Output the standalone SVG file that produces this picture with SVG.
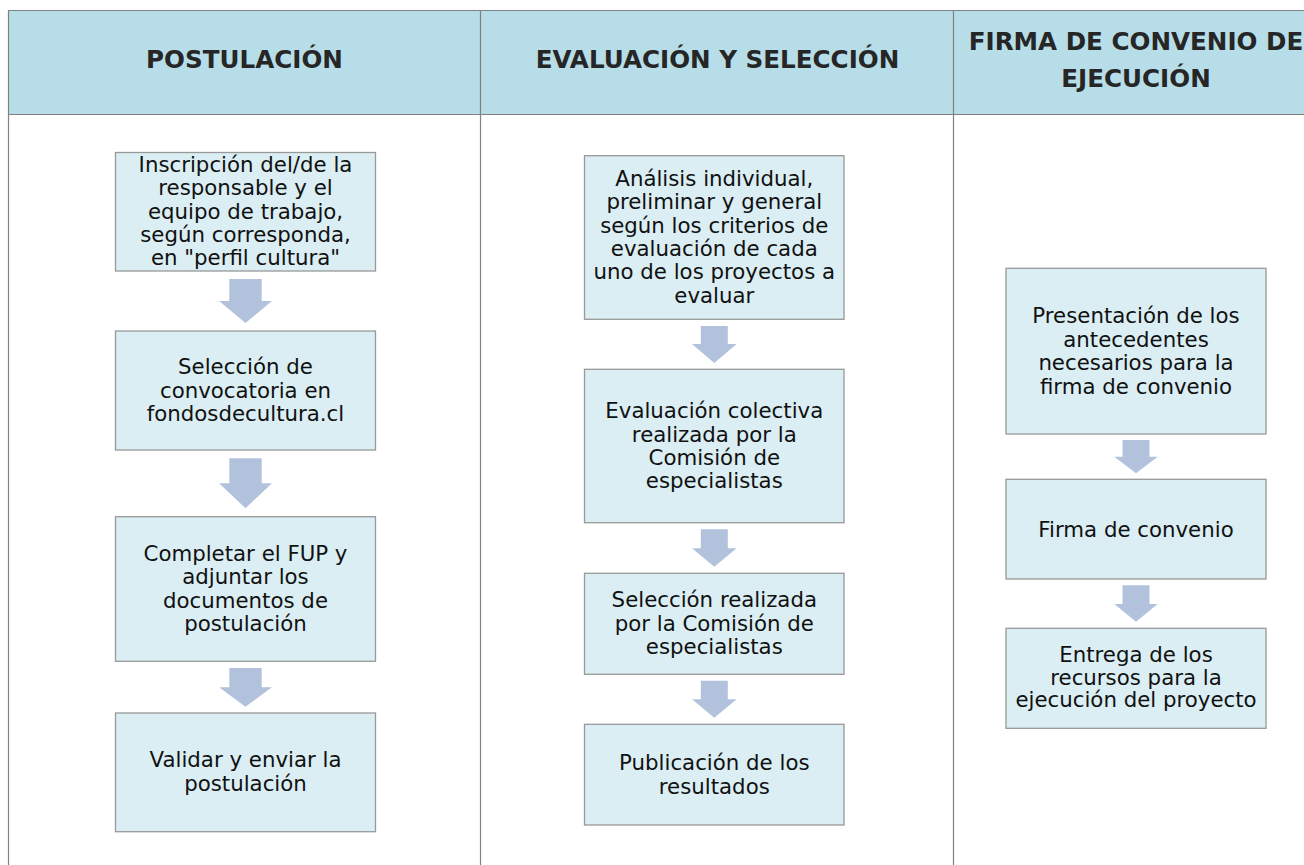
<svg xmlns="http://www.w3.org/2000/svg" width="1304" height="865" viewBox="0 0 1304 865">
<style>
.hdr{fill:#B7DDE8}
.grid{stroke:#808080;stroke-width:1.2;fill:none}
.box{fill:#DAEEF3;stroke:#999999;stroke-width:1.3}
.arr{fill:#B3C2DC}
.h{font-family:"DejaVu Sans",Verdana,sans-serif;font-weight:bold;font-size:24.6px;fill:#262626;text-anchor:middle}
.t{font-family:"DejaVu Sans",Verdana,sans-serif;font-size:21.3px;fill:#111111;text-anchor:middle}
</style>
<rect width="1304" height="865" fill="#ffffff"/>
<g id="table">
<rect class="hdr" x="8" y="10" width="1296" height="104"/>
<path class="grid" d="M8,10.5H1304M8,114.5H1304M8.5,10V865M480.5,10V865M953.5,10V865"/>
<text class="h" x="244.5" y="68">POSTULACIÓN</text>
<text class="h" x="717.5" y="68">EVALUACIÓN Y SELECCIÓN</text>
<text class="h" x="1136" y="50">FIRMA DE CONVENIO DE</text>
<text class="h" x="1136" y="87">EJECUCIÓN</text>
</g>
<g id="connectors">
<path class="arr" d="M229.3,279H261.7V301H271.9L245.5,323L219.1,301H229.3Z"/>
<path class="arr" d="M229.3,458.3H261.7V483.3H271.9L245.5,508.3L219.1,483.3H229.3Z"/>
<path class="arr" d="M229.3,668H261.7V687.3H271.9L245.5,706.7L219.1,687.3H229.3Z"/>
<path class="arr" d="M700.8,326H727.8V344H736.6L714.3,363L692,344H700.8Z"/>
<path class="arr" d="M700.8,529.3H727.8V548.3H736.6L714.3,566.7L692,548.3H700.8Z"/>
<path class="arr" d="M700.8,680.7H727.8V699.3H736.6L714.3,717.7L692,699.3H700.8Z"/>
<path class="arr" d="M1122.5,440H1149.5V456.7H1157.7L1136,473.3L1114.3,456.7H1122.5Z"/>
<path class="arr" d="M1122.5,585.3H1149.5V604H1157.7L1136,621.7L1114.3,604H1122.5Z"/>
</g>
<g id="n1">
<rect class="box" x="115.5" y="152.5" width="260" height="118.5"/>
<text class="t" x="245.5" y="172">Inscripción del/de la</text>
<text class="t" x="245.5" y="195.3">responsable y el</text>
<text class="t" x="245.5" y="218.6">equipo de trabajo,</text>
<text class="t" x="245.5" y="241.9">según corresponda,</text>
<text class="t" x="245.5" y="265.2">en "perfil cultura"</text>
</g>
<g id="n2">
<rect class="box" x="115.5" y="331" width="260" height="119"/>
<text class="t" x="245.5" y="374">Selección de</text>
<text class="t" x="245.5" y="397.5">convocatoria en</text>
<text class="t" x="245.5" y="420.8">fondosdecultura.cl</text>
</g>
<g id="n3">
<rect class="box" x="115.5" y="516.7" width="260" height="144.6"/>
<text class="t" x="245.5" y="560.7">Completar el FUP y</text>
<text class="t" x="245.5" y="584.2">adjuntar los</text>
<text class="t" x="245.5" y="607.6">documentos de</text>
<text class="t" x="245.5" y="631.3">postulación</text>
</g>
<g id="n4">
<rect class="box" x="115.5" y="713" width="260" height="118.7"/>
<text class="t" x="245.5" y="766.7">Validar y enviar la</text>
<text class="t" x="245.5" y="790.5">postulación</text>
</g>
<g id="n5">
<rect class="box" x="584.5" y="155.7" width="259.5" height="163.6"/>
<text class="t" x="714.3" y="186">Análisis individual,</text>
<text class="t" x="714.3" y="209.3">preliminar y general</text>
<text class="t" x="714.3" y="232.7">según los criterios de</text>
<text class="t" x="714.3" y="256">evaluación de cada</text>
<text class="t" x="714.3" y="279.3">uno de los proyectos a</text>
<text class="t" x="714.3" y="302.5">evaluar</text>
</g>
<g id="n6">
<rect class="box" x="584.5" y="369.3" width="259.5" height="153.4"/>
<text class="t" x="714.3" y="418.3">Evaluación colectiva</text>
<text class="t" x="714.3" y="441.7">realizada por la</text>
<text class="t" x="714.3" y="465">Comisión de</text>
<text class="t" x="714.3" y="488.3">especialistas</text>
</g>
<g id="n7">
<rect class="box" x="584.5" y="573.3" width="259.5" height="101"/>
<text class="t" x="714.3" y="607.3">Selección realizada</text>
<text class="t" x="714.3" y="630.7">por la Comisión de</text>
<text class="t" x="714.3" y="654">especialistas</text>
</g>
<g id="n8">
<rect class="box" x="584.5" y="724.3" width="259.5" height="100.7"/>
<text class="t" x="714.3" y="770">Publicación de los</text>
<text class="t" x="714.3" y="793.5">resultados</text>
</g>
<g id="n9">
<rect class="box" x="1006" y="268.3" width="260" height="165.7"/>
<text class="t" x="1136" y="323.3">Presentación de los</text>
<text class="t" x="1136" y="346.8">antecedentes</text>
<text class="t" x="1136" y="370.2">necesarios para la</text>
<text class="t" x="1136" y="393.5">firma de convenio</text>
</g>
<g id="n10">
<rect class="box" x="1006" y="479.3" width="260" height="99.7"/>
<text class="t" x="1136" y="536.7">Firma de convenio</text>
</g>
<g id="n11">
<rect class="box" x="1006" y="628.3" width="260" height="100"/>
<text class="t" x="1136" y="661.5">Entrega de los</text>
<text class="t" x="1136" y="684.5">recursos para la</text>
<text class="t" x="1136" y="707">ejecución del proyecto</text>
</g>
</svg>
